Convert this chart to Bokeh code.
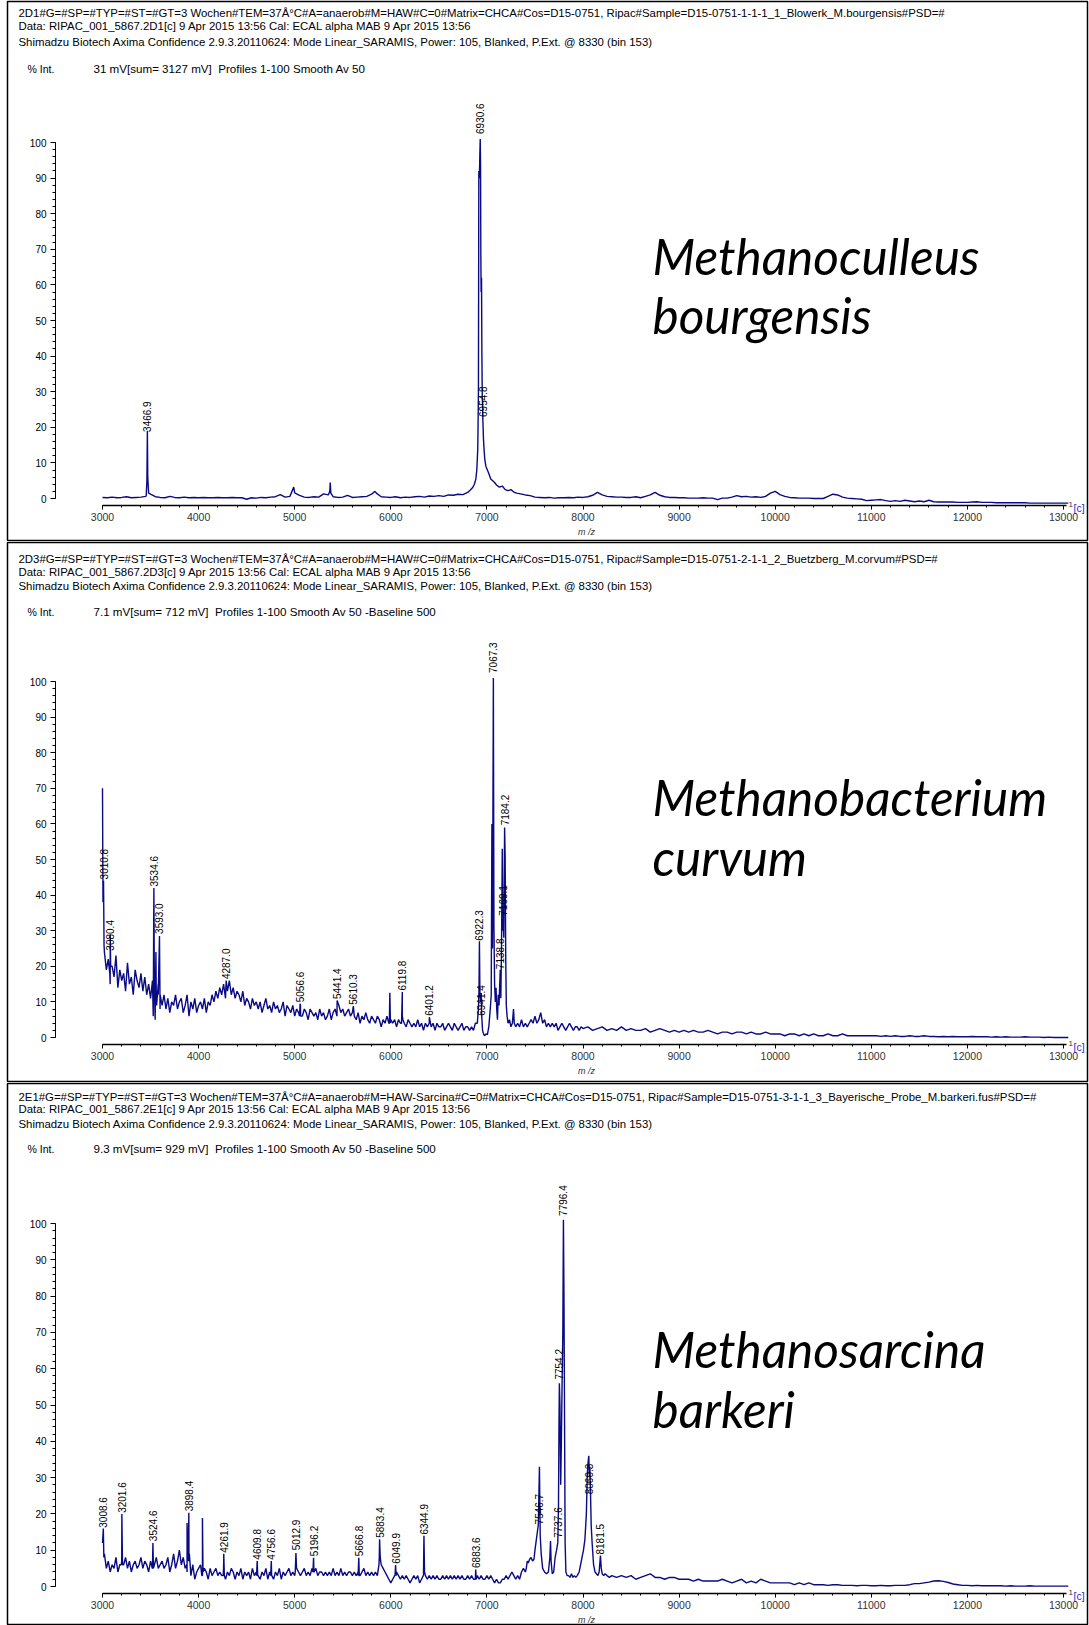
import numpy as np
from bokeh.plotting import figure
from bokeh.models import Range1d, FixedTicker, Label, ColumnDataSource
from bokeh.layouts import column
from bokeh.embed import file_html
from bokeh.resources import INLINE
from bokeh.core.properties import value

# ---------------------------------------------------------------- data
MZ_TICKS = [3000, 4000, 5000, 6000, 7000, 8000, 9000, 10000, 11000, 12000, 13000]
MZ_MINOR = list(range(3000, 13001, 200))
INT_TICKS = [0, 10, 20, 30, 40, 50, 60, 70, 80, 90, 100]
INT_MINOR = list(range(0, 101, 2))

HEAD_1 = ["2D1#G=#SP=#TYP=#ST=#GT=3 Wochen#TEM=37Å°C#A=anaerob#M=HAW#C=0#Matrix=CHCA#Cos=D15-0751, Ripac#Sample=D15-0751-1-1-1_1_Blowerk_M.bourgensis#PSD=#",
          "Data: RIPAC_001_5867.2D1[c] 9 Apr 2015 13:56 Cal: ECAL alpha MAB 9 Apr 2015 13:56",
          "Shimadzu Biotech Axima Confidence 2.9.3.20110624: Mode Linear_SARAMIS, Power: 105, Blanked, P.Ext. @ 8330 (bin 153)"]
INFO_1 = "31 mV[sum= 3127 mV]\u00a0\u00a0Profiles 1-100 Smooth Av 50"
SPECIES_1 = ["Methanoculleus", "bourgensis"]

HEAD_2 = ["2D3#G=#SP=#TYP=#ST=#GT=3 Wochen#TEM=37Å°C#A=anaerob#M=HAW#C=0#Matrix=CHCA#Cos=D15-0751, Ripac#Sample=D15-0751-2-1-1_2_Buetzberg_M.corvum#PSD=#",
          "Data: RIPAC_001_5867.2D3[c] 9 Apr 2015 13:56 Cal: ECAL alpha MAB 9 Apr 2015 13:56",
          "Shimadzu Biotech Axima Confidence 2.9.3.20110624: Mode Linear_SARAMIS, Power: 105, Blanked, P.Ext. @ 8330 (bin 153)"]
INFO_2 = "7.1 mV[sum= 712 mV]\u00a0\u00a0Profiles 1-100 Smooth Av 50 -Baseline 500"
SPECIES_2 = ["Methanobacterium", "curvum"]

HEAD_3 = ["2E1#G=#SP=#TYP=#ST=#GT=3 Wochen#TEM=37Å°C#A=anaerob#M=HAW-Sarcina#C=0#Matrix=CHCA#Cos=D15-0751, Ripac#Sample=D15-0751-3-1-1_3_Bayerische_Probe_M.barkeri.fus#PSD=#",
          "Data: RIPAC_001_5867.2E1[c] 9 Apr 2015 13:56 Cal: ECAL alpha MAB 9 Apr 2015 13:56",
          "Shimadzu Biotech Axima Confidence 2.9.3.20110624: Mode Linear_SARAMIS, Power: 105, Blanked, P.Ext. @ 8330 (bin 153)"]
INFO_3 = "9.3 mV[sum= 929 mV]\u00a0\u00a0Profiles 1-100 Smooth Av 50 -Baseline 500"
SPECIES_3 = ["Methanosarcina", "barkeri"]

# ---- panel 1 : M. bourgensis -- baseline segments (start m/z, step, intensities)
P1_SEGMENTS = [
    (3000, 50, [0.3, 0.2, 0.4, 0.2, 0.3, 0.5, 0.2, 0.3, 0.4, 0.6,
                1.2, 0.5, 0.3, 0.2, 0.6, 0.3, 0.2, 0.4, 0.2, 0.3,
                0.2, 0.3, 0.2, 0.2, 0.3, 0.2, 0.2, 0.3, 0.2, 0.2,
                -0.2, 0.2, 0.1, 0.3, 0.2, 0.4, 0.5, 1.1, 0.4, 0.6,
                1.6, 0.9, 0.4, 0.3, 0.5, 0.4, 1.3, 1.0, 0.5, 0.3,
                0.4, 0.9, 0.3, 0.4, 0.5, 0.6, 1.2, 1.5, 0.5, 0.4,
                0.3, 0.5, 0.2, 0.4, 0.3, 0.5, 0.6, 0.4, 0.7, 0.6,
                0.8, 0.6, 1.0, 0.9, 1.2, 1.1, 1.7]),
    (7500, 50, [0.4, 0.3, 0.2, 0.3, 0.1, 0.2, 0.2, 0.3, 0.2, 0.4,
                0.3, 0.5, 0.9, 1.7, 1.0, 0.6, 0.5, 0.4, 0.4, 0.3,
                0.3, 0.5, 0.2, 0.6, 1.0, 1.7, 0.9, 0.5, 0.3, 0.3,
                0.2, 0.2, 0.1, 0.1, 0.1, 0.2, 0.1, 0.1, -0.3, 0.1,
                0.1, 0.4, 0.8, 0.5, 0.6, 0.4, 0.5, 0.3, 0.6, 1.5,
                2.0, 1.1, 0.6, 0.3, 0.2, 0.1, 0.1, 0.1, 0.0, 0.0,
                0.0, 0.6, 1.2, 1.0, 0.4, 0.1, 0.0, -0.1, -0.2, -0.6,
                -0.5, -0.4, -0.3, -0.6, -0.8, -0.6, -0.8, -0.5, -0.7, -0.9,
                -0.7, -0.9, -0.5, -0.9, -1.0, -1.0, -1.0, -1.0, -1.1, -1.1,
                -1.1, -1.0, -0.9, -1.1, -1.1, -1.1, -1.2, -1.2, -1.2, -1.2,
                -1.2, -1.2, -1.2, -1.3, -1.3, -1.3, -1.3, -1.3, -1.3, -1.3,
                -1.3, -1.3]),
]
P1_PEAK_MZ = [3455, 3462, 3466.9, 3471, 3480, 4990, 5365, 5370, 5376, 5835,
              6820, 6850, 6870, 6885, 6895, 6905, 6912, 6916, 6922, 6926, 6930.6, 6934, 6937,
              6940, 6944, 6948, 6952, 6954.8, 6958, 6964, 6970, 6978, 6990, 7005, 7020, 7040,
              7060, 7080, 7100, 7130, 7160, 7190, 7220, 7250, 7280, 7310, 7350, 7400, 7450]
P1_PEAK_INT = [0.8, 5, 19, 6, 1.5, 3.2, 2, 4.5, 1.5, 2,
               2.2, 3, 4, 5.5, 8, 14, 30, 92, 90, 96, 101, 94, 68,
               58, 62, 40, 28, 27, 22, 17, 14, 11, 9, 8, 7, 5.5,
               5, 4.5, 3.8, 3.2, 3.5, 2.5, 2.2, 2.5, 1.8, 1.5, 1.3, 1.0, 0.8]
P1_LABEL_MZ = [3466.9, 6930.6, 6954.8]
P1_LABEL_Y = [18.3, 102, 22.5]
P1_LABEL_TEXT = ["3466.9", "6930.6", "6954.8"]

# ---- panel 2 : M. curvum
P2_SEGMENTS = [
    (3020, 20, [24, 19, 22, 15, 20, 17, 23, 14, 19, 16,
                18, 13, 21, 15, 17, 12, 19, 16, 14, 18,
                13, 17, 12, 15, 11, 16, 13, 10, 15, 12,
                9, 12, 8, 11, 7, 10, 9, 12, 8, 10,
                11, 7, 9, 12, 6, 10, 8, 11, 7, 9,
                10, 8, 11, 7, 10, 9, 12, 10, 13, 11,
                14, 12, 15, 11, 13, 16, 12, 14, 11, 13,
                12, 10, 13, 9, 11, 10, 8, 11, 9, 10,
                8, 10, 7, 9, 11, 8, 9, 7, 10, 8,
                9, 7, 8, 10, 6, 9, 8, 7, 9, 6,
                8, 7, 9, 6, 8, 7, 5, 8, 7, 6,
                7, 5, 8, 6, 7, 5, 6, 8, 5, 7,
                8, 6, 9, 7, 8, 6, 7, 8, 6, 7,
                6, 5, 7, 4, 6, 5, 7, 5, 4, 6,
                5, 4, 6, 5, 3, 5, 4, 6, 4, 5,
                4, 5, 3, 5, 4, 6, 4, 3, 5, 4,
                3, 4, 3, 5, 3, 4, 2, 4, 3, 4,
                3, 4, 2, 4, 3, 3, 4, 2, 3, 4,
                3, 2, 4, 3, 2, 3, 4, 2, 3, 3,
                2, 3, 2, 4]),
    (7320, 20, [4, 3, 5, 3, 4, 3, 4, 5, 4,
                6, 4, 5, 7, 4, 5, 3, 4, 3, 4,
                3, 4, 2, 3, 4, 3, 2, 3, 4, 3,
                2, 3, 3, 2, 3]),
    (8000, 50, [2.5, 3, 2, 2.5, 3, 2, 2.5, 2, 3, 2,
                2.5, 2, 2, 2.5, 1.5, 2, 2.5, 2, 1.5, 2,
                1.5, 2, 1.5, 2, 1.5, 1.5, 2, 1.5, 1, 1.5,
                1.5, 1, 1.5, 1.5, 1, 1.5, 1, 1, 1.5, 1,
                1, 1, 0.5, 1, 1, 0.5, 1, 0.5, 1, 0.5,
                0.5, 1, 0.5, 0.5, 1, 0.5, 0.5, 0.5, 0.5, 0.5,
                0.5, 0.5, 0.3, 0.5, 0.3, 0.5, 0.3, 0.3, 0.5, 0.3,
                0.3, 0.5, 0.3, 0.3, 0.2, 0.3, 0.2, 0.3, 0.2, 0.2,
                0.2, 0.3, 0.2, 0.2, 0.2, 0.1, 0.2, 0.1, 0.2, 0.1,
                0.1, 0.1, 0.2, 0.1, 0.1, 0.1, 0.0, 0.1, 0.0, 0.0,
                0.0, 0.0]),
]
P2_PEAK_MZ = [3000, 3005, 3010.8, 3016, 3076, 3080.4, 3085,
              3528, 3534.6, 3540, 3548, 3556, 3563, 3580, 3593.0, 3599,
              4287.0, 5050, 5056.6, 5062, 5441.4, 5610.3, 5985, 5990, 5996,
              6112, 6119.8, 6126, 6401.2,
              6900, 6912, 6918, 6922.3, 6927, 6935, 6941.4, 6946, 6955, 6965, 6975, 6990, 7005,
              7020, 7035, 7045, 7052, 7058, 7067.3, 7073, 7080, 7088, 7095, 7102, 7110, 7118,
              7126, 7138.8, 7145, 7152, 7160, 7165, 7169.1, 7176, 7184.2, 7190, 7196, 7202,
              7210, 7220, 7235, 7250, 7265, 7277, 7285, 7300]
P2_PEAK_INT = [70, 38, 44, 26, 18, 29, 20,
               6, 42, 14, 5, 24, 9, 12, 28.5, 8,
               16, 6, 9.5, 6, 10.4, 8.8, 4, 12.6, 4,
               4, 12.8, 5, 5.7,
               4, 8, 14, 27, 13, 10, 12.5, 6, 2, 1, 0.5, 1, 0.8,
               3, 8, 12, 60, 25, 101, 32, 15, 10, 14, 8, 5, 12,
               9, 19, 11, 25, 53, 30, 34, 28, 59, 51, 22, 9,
               6, 4, 5, 3, 4, 8, 4, 3]
P2_LABEL_MZ = [3010.8, 3080.4, 3534.6, 3593.0, 4287.0, 5056.6, 5441.4, 5610.3, 6119.8,
               6401.2, 6922.3, 6941.4, 7067.3, 7138.8, 7169.1, 7184.2]
P2_LABEL_Y = [44, 24, 42, 28.7, 16, 9.5, 10.4, 8.8, 12.8, 5.7, 26.8, 5.7, 102, 18.8, 33.8, 59.2]
P2_LABEL_TEXT = ["3010.8", "3080.4", "3534.6", "3593.0", "4287.0", "5056.6", "5441.4", "5610.3",
                 "6119.8", "6401.2", "6922.3", "6941.4", "7067.3", "7138.8", "7169.1", "7184.2"]

# ---- panel 3 : M. barkeri
P3_SEGMENTS = [
    (3020, 20, [9, 5, 7, 4, 6, 5, 8, 4, 6, 7,
                6, 8, 5, 7, 4, 6, 7, 5, 6, 8,
                5, 7, 6, 4, 7, 5, 6, 8, 5, 6,
                7, 5, 6, 8, 4, 6, 9, 5, 7, 10,
                6, 8, 5, 4, 7, 3, 6, 2, 4, 5,
                6, 3, 5, 4, 2, 5, 3, 4, 5, 3,
                4, 3, 5, 2, 4, 3, 5, 4, 2, 4,
                3, 5, 2, 4, 3, 4, 2, 5, 3, 4,
                3, 2, 4, 3, 5, 2, 4, 3, 2, 4,
                3, 5, 2, 4, 3, 4, 5, 3, 4, 3,
                5, 4, 3, 4, 5, 3, 4, 3, 5, 4,
                5, 3, 4, 4, 3, 4, 3, 4, 3, 5,
                3, 4, 3, 5, 3, 4, 3, 4, 4, 3,
                4, 3, 4, 3, 4, 5, 3, 4, 3, 4,
                3, 4, 3, 8, 6, 5, 4, 3, 2, 1,
                2, 3, 4, 3, 2, 3, 2, 3, 2, 1,
                2, 3, 2, 3, 1, 2, 3, 3, 2, 3,
                2, 3, 2, 3, 2, 2, 3, 2, 3, 2,
                3, 2, 3, 2, 3, 2, 3, 2, 2, 3,
                2, 3, 2, 2, 3, 2, 3, 2, 2, 3,
                2, 3, 2, 1, 2, 1, 1, 2, 2, 3,
                2, 3, 4, 3, 2, 3, 2, 4, 5, 4]),
    (8300, 50, [3, 2.5, 3, 2.5, 3, 2, 2.5, 3, 3.5, 2.5,
                2.5, 2, 2.5, 2.5, 2, 2, 2, 1.5, 2, 1.5,
                1.5, 1.5, 1.5, 2, 1.5, 1, 1.5, 2, 1, 1.5,
                1, 2, 1.5, 1, 1, 1, 1, 1, 0.5, 1,
                0.5, 1, 0.5, 0.5, 0.5, 0.3, 0.5, 0.5, 0.3, 0.3,
                0.3, 0.2, 0.3, 0.3, 0.2, 0.2, 0.3, 0.2, 0.2, 0.3,
                0.3, 0.3, 0.5, 0.8, 0.8, 1.0, 1.2, 1.5, 1.6, 1.4,
                1.1, 0.7, 0.5, 0.3, 0.3, 0.2, 0.3, 0.2, 0.2, 0.2,
                0.2, 0.2, 0.1, 0.2, 0.1, 0.1, 0.1, 0.2, 0.1, 0.1,
                0.1, 0.1, 0.1, 0.1, 0.1, 0.1]),
]
P3_PEAK_MZ = [3000, 3008.6, 3014, 3195, 3201.6, 3208, 3518, 3524.6, 3530,
              3876, 3880, 3886, 3893, 3898.4, 3904, 4034, 4040, 4046,
              4255, 4261.9, 4268, 4603, 4609.8, 4615, 4750, 4756.6, 4762,
              5006, 5012.9, 5019, 5190, 5196.2, 5202, 5660, 5666.8, 5672,
              5877, 5883.4, 5890, 6044, 6049.9, 6055, 6338, 6344.9, 6351, 6878, 6883.6, 6889,
              7410, 7420, 7430, 7445, 7460, 7475, 7490, 7500, 7520, 7535, 7546.7, 7555, 7565,
              7580, 7600, 7620, 7640, 7655, 7662, 7668, 7680, 7695, 7710, 7725, 7737.6, 7745,
              7750, 7754.2, 7760, 7768, 7775, 7782, 7790, 7796.4, 7802, 7808, 7814, 7822, 7835,
              7850, 7865, 7880, 7895, 7910, 7925, 7940, 7960, 7975, 7990, 8005, 8020, 8035,
              8045, 8052, 8060.3, 8066, 8072, 8078, 8085, 8095, 8110, 8125, 8140, 8155, 8168,
              8181.5, 8190, 8200, 8215, 8230, 8250, 8275]
P3_PEAK_INT = [12, 16, 8, 6, 20, 6, 5, 12, 5,
               6, 17.5, 7, 9, 20.3, 9, 3, 18.9, 4,
               3, 9, 3, 3, 7, 3, 3, 7, 3,
               4, 9.2, 5, 4, 7.9, 4, 3, 7.9, 3,
               6, 13, 8, 3, 5.9, 3, 3, 14, 4, 2, 4.7, 2,
               5, 7, 6.5, 7.5, 8, 7, 7.5, 10, 14, 17, 33, 14, 9,
               5, 4, 3.5, 4, 8, 12.5, 7, 3.5, 4, 8, 10, 12, 22,
               45, 56, 50, 28, 40, 55, 70, 101, 80, 46, 12, 4, 3,
               3, 2.5, 3.5, 2.5, 3, 2.5, 3, 4, 6, 8, 10, 13, 20,
               31, 34, 36, 30, 33, 26, 17, 12, 6, 4, 3.5, 3, 4,
               8.5, 5, 3.5, 3, 3.5, 3, 2.5]
P3_LABEL_MZ = [3008.6, 3201.6, 3524.6, 3898.4, 4261.9, 4609.8, 4756.6, 5012.9, 5196.2,
               5666.8, 5883.4, 6049.9, 6344.9, 6883.6, 7546.7, 7737.6, 7754.2, 7796.4,
               8060.3, 8181.5]
P3_LABEL_Y = [15.8, 19.9, 12.1, 20.3, 8.9, 7, 7, 9.6, 7.9, 7.9, 13, 5.9, 13.9, 4.7,
              16.7, 13, 56.6, 101.7, 25, 8.4]
P3_LABEL_TEXT = ["3008.6", "3201.6", "3524.6", "3898.4", "4261.9", "4609.8", "4756.6",
                 "5012.9", "5196.2", "5666.8", "5883.4", "6049.9", "6344.9", "6883.6",
                 "7546.7", "7737.6", "7754.2", "7796.4", "8060.3", "8181.5"]

# ---------------------------------------------------------------- layout (page pixels)
PAGE_W = 1089
FRAME_L, FRAME_R = 7, 1087      # panel border (frame outline) left / right
AXIS_X = 55                      # y-axis line
X3000, X13000 = 102, 1063
AXIS_END = 1066
PPD = (X13000 - X3000) / 10000.0

LINE_COLOR = "#0a0a84"
FONT = "Liberation Sans"
SPECIES_FONT = "Lato"
SPECIES_SIZE = 49.5
BASELINE_FIX = 0.39 * SPECIES_SIZE

PANELS = [
    dict(top=0, h=541, y0=498, y100=142, axis=505,
         head=[12.4, 25.9, 41.4, 68.4], species=[274.6, 333.6],
         seg=P1_SEGMENTS, pmz=P1_PEAK_MZ, pint=P1_PEAK_INT,
         lmz=P1_LABEL_MZ, ly=P1_LABEL_Y, lt=P1_LABEL_TEXT,
         headtxt=HEAD_1, info=INFO_1, sp=SPECIES_1),
    dict(top=541, h=541, y0=1037, y100=681, axis=1044,
         head=[558.5, 571, 585.5, 611.4], species=[815.5, 875.6],
         seg=P2_SEGMENTS, pmz=P2_PEAK_MZ, pint=P2_PEAK_INT,
         lmz=P2_LABEL_MZ, ly=P2_LABEL_Y, lt=P2_LABEL_TEXT,
         headtxt=HEAD_2, info=INFO_2, sp=SPECIES_2),
    dict(top=1082, h=543, y0=1586, y100=1223, axis=1593,
         head=[1096.3, 1108.7, 1123.2, 1148.1], species=[1367.8, 1428],
         seg=P3_SEGMENTS, pmz=P3_PEAK_MZ, pint=P3_PEAK_INT,
         lmz=P3_LABEL_MZ, ly=P3_LABEL_Y, lt=P3_LABEL_TEXT,
         headtxt=HEAD_3, info=INFO_3, sp=SPECIES_3),
]


def build_spectrum(segments, pmz, pint):
    xs, ys = [], []
    for start, step, vals in segments:
        for i, v in enumerate(vals):
            xs.append(start + step * i)
            ys.append(v)
    xs += list(pmz)
    ys += list(pint)
    xs = np.array(xs, dtype=float)
    ys = np.array(ys, dtype=float)
    order = np.argsort(xs, kind="stable")
    return xs[order], ys[order]


def dx(px):
    return 3000 + (px - X3000) / PPD


def make_panel(c):
    ppu = (c["y0"] - c["y100"]) / 100.0

    def dy(py):
        return (c["y0"] - py) / ppu

    top, h = c["top"], c["h"]
    frame_top = top + 1
    p = figure(width=PAGE_W, height=h,
               x_range=Range1d(dx(FRAME_L), dx(FRAME_R)),
               y_range=Range1d(dy(top + h), dy(frame_top)),
               output_backend="svg", toolbar_location=None,
               min_border_left=FRAME_L, min_border_right=PAGE_W - FRAME_R,
               min_border_top=frame_top - top, min_border_bottom=0)
    p.grid.visible = False
    p.outline_line_color = "black"
    p.outline_line_width = 1.5
    p.background_fill_color = "white"
    p.border_fill_color = "white"

    xa = p.xaxis[0]
    xa.fixed_location = dy(c["axis"])
    xa.ticker = FixedTicker(ticks=MZ_TICKS, minor_ticks=MZ_MINOR)
    xa.bounds = (3000, dx(AXIS_END))
    xa.axis_line_width = 1.6
    xa.axis_line_color = "black"
    xa.major_tick_out = 4
    xa.major_tick_in = 0
    xa.minor_tick_out = 2
    xa.minor_tick_in = 0
    xa.major_tick_line_color = "black"
    xa.minor_tick_line_color = "black"
    xa.major_label_text_font = FONT
    xa.major_label_text_font_size = "10.5px"
    xa.major_label_text_color = "#333333"
    xa.major_label_standoff = 3

    ya = p.yaxis[0]
    ya.fixed_location = dx(AXIS_X)
    ya.ticker = FixedTicker(ticks=INT_TICKS, minor_ticks=INT_MINOR)
    ya.bounds = (0, 100)
    ya.axis_line_color = "black"
    ya.major_tick_out = 5
    ya.major_tick_in = 0
    ya.minor_tick_out = 3
    ya.minor_tick_in = 0
    ya.major_label_text_font = FONT
    ya.major_label_text_font_size = "10px"
    ya.major_label_text_color = "black"
    ya.major_label_standoff = 4

    xs, ys = build_spectrum(c["seg"], c["pmz"], c["pint"])
    p.line(xs, ys, line_color=LINE_COLOR, line_width=1.4)

    src = ColumnDataSource(dict(x=c["lmz"], y=[v + 0.4 for v in c["ly"]], t=c["lt"]))
    p.text(x="x", y="y", text="t", source=src, angle=np.pi / 2,
           text_font=value(FONT), text_font_size="10px", text_color="#000000",
           text_align="left", text_baseline="middle")

    # header texts
    for txt, py in zip(c["headtxt"], c["head"][:3]):
        p.add_layout(Label(x=dx(18), y=dy(py), text=txt, text_font=FONT,
                           text_font_size="11.4px", text_color="black",
                           text_baseline="middle", text_align="left"))
    p.add_layout(Label(x=dx(27), y=dy(c["head"][3]), text="% Int.", text_font=FONT,
                       text_font_size="10.5px", text_color="black",
                       text_baseline="middle", text_align="left"))
    p.add_layout(Label(x=dx(93), y=dy(c["head"][3]), text=c["info"], text_font=FONT,
                       text_font_size="11.6px", text_color="black",
                       text_baseline="middle", text_align="left"))
    # species name
    for txt, py in zip(c["sp"], c["species"]):
        p.add_layout(Label(x=dx(652), y=dy(py - BASELINE_FIX), text=txt, text_font=SPECIES_FONT,
                           text_font_size="%.1fpx" % SPECIES_SIZE, text_font_style="italic",
                           text_color="black", text_baseline="alphabetic", text_align="left"))
    # axis extras
    p.add_layout(Label(x=dx(586), y=dy(c["axis"] + 26), text="m /z", text_font=FONT,
                       text_font_size="9px", text_font_style="italic", text_color="#333333",
                       text_baseline="middle", text_align="center"))
    p.add_layout(Label(x=dx(1068), y=dy(c["axis"] - 1), text="1", text_font=FONT,
                       text_font_size="8px", text_color="#333333",
                       text_baseline="middle", text_align="left"))
    p.add_layout(Label(x=dx(1073), y=dy(c["axis"] + 2), text="[c]", text_font=FONT,
                       text_font_size="10.5px", text_color="#2a2ad0",
                       text_baseline="middle", text_align="left"))
    return p


figs = [make_panel(c) for c in PANELS]
layout = column(*figs, spacing=0)
open("out.html", "w").write(file_html(layout, INLINE))
